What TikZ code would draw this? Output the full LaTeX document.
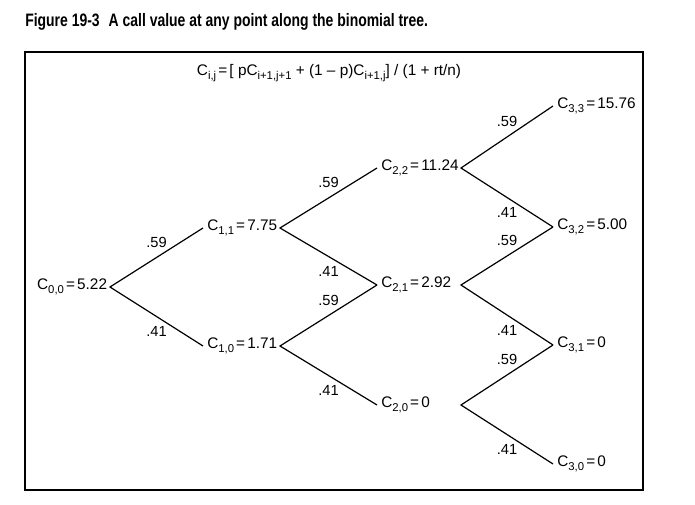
\documentclass[tikz,border=0pt]{standalone}
\usepackage{fontspec}
\setmainfont{Liberation Sans}
\newfontfamily\titlefont[FakeStretch=0.775]{Liberation Sans}
\usetikzlibrary{positioning}

\newcommand\lowidx[1]{\raisebox{-0.45ex}{\fontsize{8.5}{9}\selectfont #1}}
\newcommand\eqs{\hspace{0.14em}=\hspace{0.14em}}

\begin{document}
\begin{tikzpicture}[
  x=0.75pt, y=-0.75pt,
  val/.style = {anchor=west, inner sep=3pt, font=\fontsize{11.5}{13}\selectfont},
  prob/.style = {inner sep=1pt, font=\fontsize{11}{13}\selectfont},
  up/.style = {prob, midway, above=6pt},
  down/.style = {prob, midway, below=6pt},
  branch/.style = {line width=0.9pt},
]
  \useasboundingbox (0,0) rectangle (695,505);

  \node[anchor=base west, inner sep=0pt,
        font=\titlefont\bfseries\fontsize{13.5}{15}\selectfont] (title) at (25,27)
    {Figure 19-3\enspace A call value at any point along the binomial tree.};
  \draw[line width=0.9pt] (25,52) rectangle (643,490);

  \node[val, anchor=center] (rule) at (329,73)
    {C\lowidx{i,j}\eqs[ pC\lowidx{i+1,j+1} + (1 -- p)C\lowidx{i+1,j}] / (1 + rt/n)};

  % values
  \node[val, anchor=east, inner sep=2pt] (c00) at (110,287) {C\lowidx{0,0}\eqs5.22};
  \node[val] (c11) at (203,228) {C\lowidx{1,1}\eqs7.75};
  \node[val] (c10) at (203,346) {C\lowidx{1,0}\eqs1.71};
  \node[val] (c22) at (377,168) {C\lowidx{2,2}\eqs11.24};
  \node[val] (c21) at (377,285) {C\lowidx{2,1}\eqs2.92};
  \node[val] (c20) at (377,405) {C\lowidx{2,0}\eqs0};
  \node[val] (c33) at (553,106) {C\lowidx{3,3}\eqs15.76};
  \node[val] (c32) at (553,227) {C\lowidx{3,2}\eqs5.00};
  \node[val] (c31) at (553,345) {C\lowidx{3,1}\eqs0};
  \node[val] (c30) at (553,464) {C\lowidx{3,0}\eqs0};

  % forks
  \coordinate (f11) at (280,228);
  \coordinate (f10) at (280,346);
  \coordinate (f22) at (461,168);
  \coordinate (f21) at (461,285);
  \coordinate (f20) at (461,405);

  \draw[branch] (c11.west) -- node[up] (p1) {.59} (c00.east)
                -- node[down] (p2) {.41} (c10.west);
  \draw[branch] (c22.west) -- node[up] (p3) {.59} (f11)
                -- node[down] (p4) {.41} (c21.west);
  \draw[branch] (c21.west) -- node[up] (p5) {.59} (f10)
                -- node[down] (p6) {.41} (c20.west);
  \draw[branch] (c33.west) -- node[up] (p7) {.59} (f22)
                -- node[down] (p8) {.41} (c32.west);
  \draw[branch] (c32.west) -- node[up] (p9) {.59} (f21)
                -- node[down] (p10) {.41} (c31.west);
  \draw[branch] (c31.west) -- node[up] (p11) {.59} (f20)
                -- node[down] (p12) {.41} (c30.west);
\end{tikzpicture}
\end{document}
